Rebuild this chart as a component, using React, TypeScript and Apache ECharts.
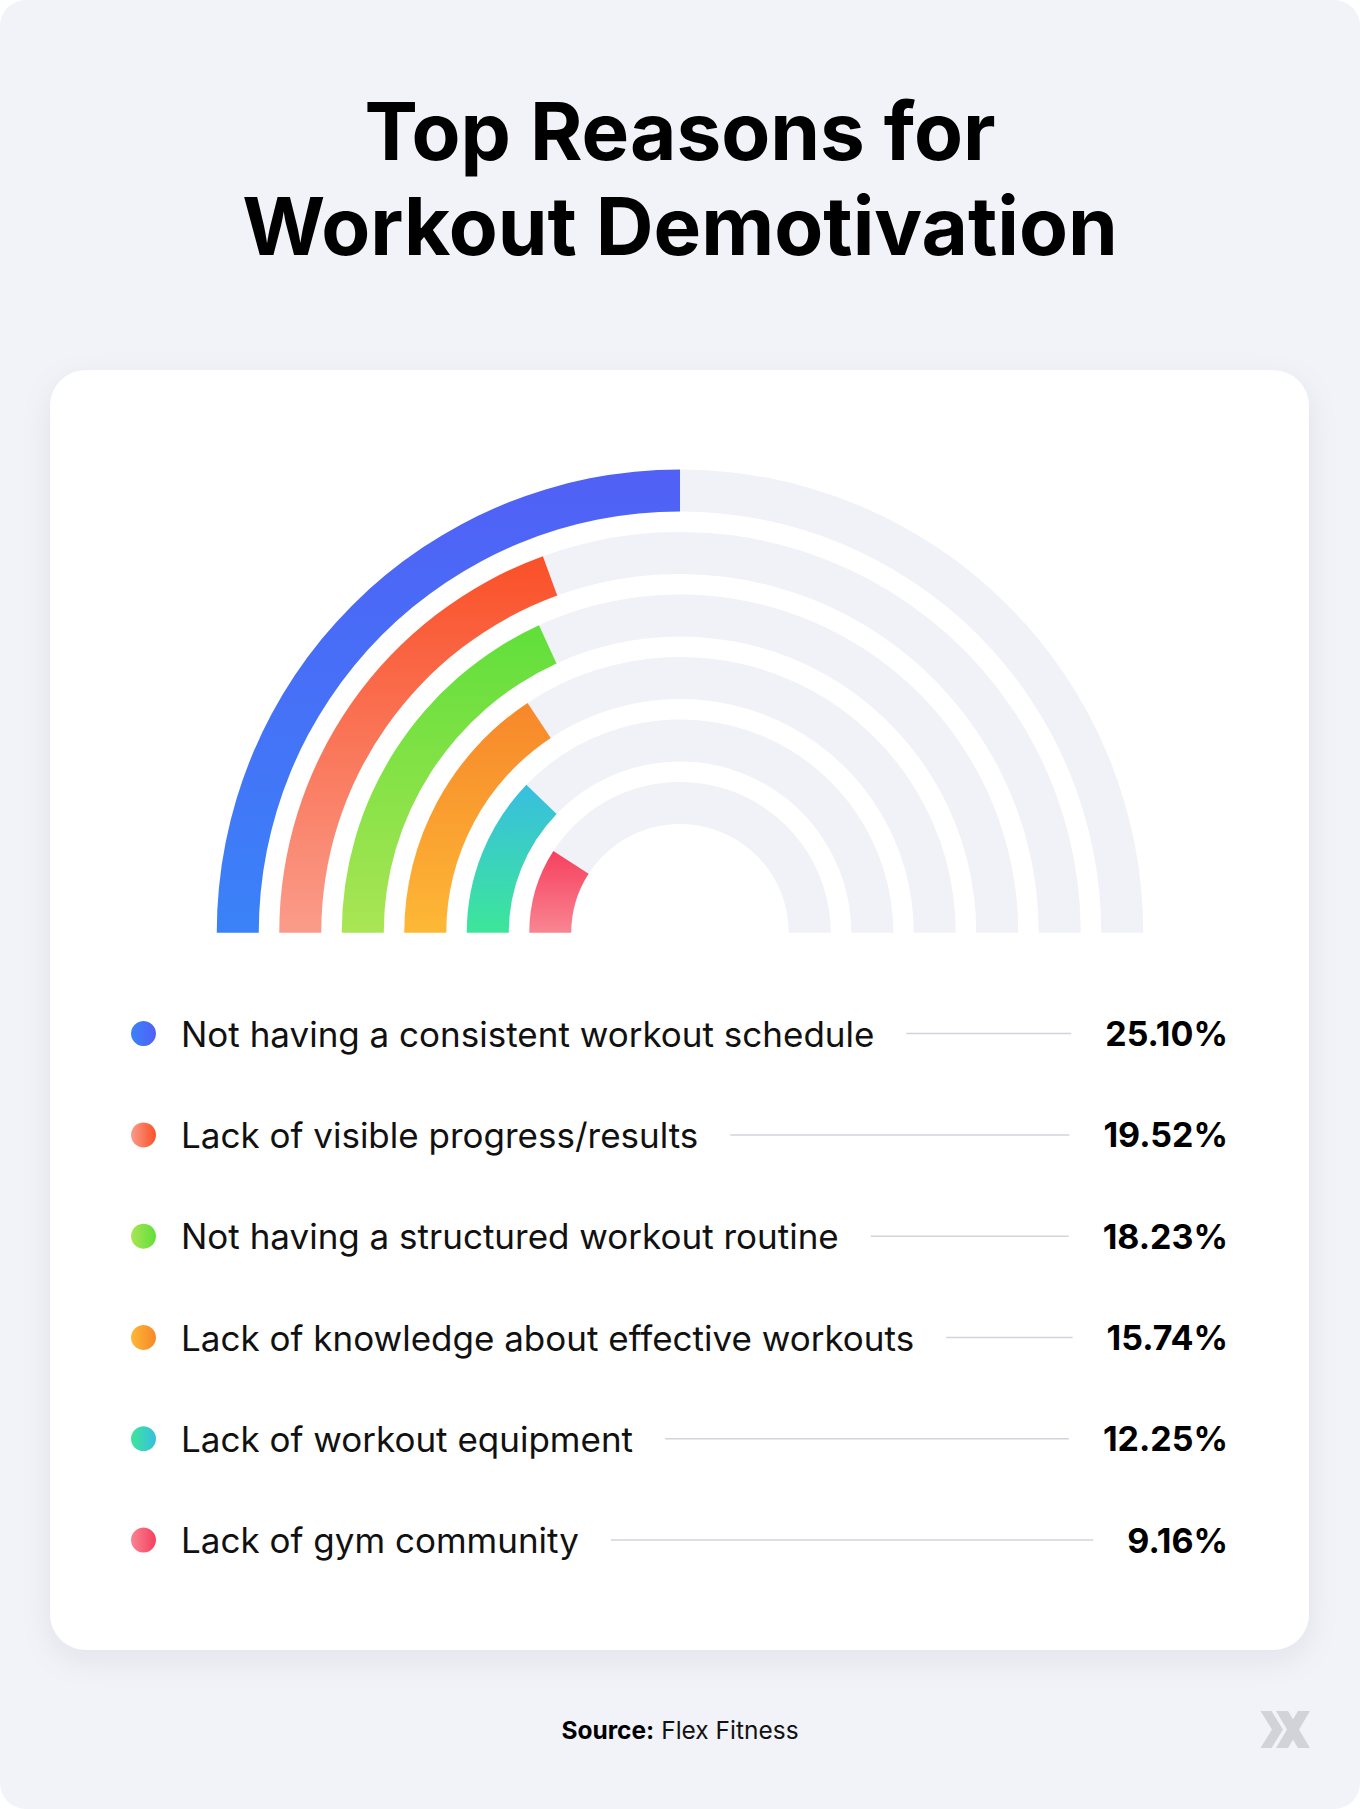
import React, { useEffect, useRef } from "react";
import * as echarts from "echarts";

const labels = [
  "Not having a consistent workout schedule",
  "Lack of visible progress/results",
  "Not having a structured workout routine",
  "Lack of knowledge about effective workouts",
  "Lack of workout equipment",
  "Lack of gym community",
];
const values = [25.1, 19.52, 18.23, 15.74, 12.25, 9.16];
const valueLabels = ["25.10%", "19.52%", "18.23%", "15.74%", "12.25%", "9.16%"];
// [end-of-bar colour, start-of-bar colour]
const colorPairs: [string, string][] = [
  ["#5160F6", "#3A82F8"],
  ["#FA5028", "#FA9C8A"],
  ["#60DF3A", "#AAE554"],
  ["#F7872A", "#FDB836"],
  ["#38BEE0", "#3DE69A"],
  ["#F6405E", "#F98592"],
];
const titleLines = ["Top Reasons for", "Workout Demotivation"];
const sourceText = "Flex Fitness";
const angleMax = 50.2;

const W = 1360;
const H = 1809;
const FONT = "Inter, 'Noto Sans', sans-serif";

function measure(text: string, font: string): number {
  const c = document.createElement("canvas").getContext("2d");
  if (!c) return text.length * 16;
  c.font = font;
  return c.measureText(text).width;
}

export default function App() {
  const ref = useRef<HTMLDivElement>(null);
  useEffect(() => {
    document.body.style.margin = "0";
    if (!ref.current) return;
    const chart = echarts.init(ref.current, undefined, { renderer: "svg" });

    const innerToOuter = labels.slice().reverse();
    const valsInner = values.slice().reverse();
    const colsInner = colorPairs.slice().reverse();

    const graphics: any[] = [];
    graphics.push({
      type: "rect",
      shape: { x: 0, y: 0, width: W, height: H, r: 26 },
      style: { fill: "#F2F3F8" },
      z: -10,
      silent: true,
    });
    graphics.push({
      type: "rect",
      shape: { x: 50, y: 370, width: 1259, height: 1280, r: 36 },
      style: {
        fill: "#FFFFFF",
        shadowBlur: 30,
        shadowOffsetY: 10,
        shadowColor: "rgba(20,20,60,0.07)",
      },
      z: -9,
      silent: true,
    });
    titleLines.forEach((t, i) => {
      graphics.push({
        type: "text",
        x: 680,
        y: 130 + i * 95,
        style: {
          text: t,
          fill: "#000000",
          font: `700 80px ${FONT}`,
          align: "center",
          verticalAlign: "middle",
        },
      });
    });

    const rowY0 = 1033.6;
    const rowStep = 101.3;
    const valueRight = 1228;
    const labelFont = `400 35px ${FONT}`;
    const valueFont = `700 34px ${FONT}`;
    labels.forEach((lab, i) => {
      const y = rowY0 + i * rowStep;
      const [endC, startC] = colorPairs[i];
      graphics.push({
        type: "circle",
        shape: { cx: 143.5, cy: y, r: 12.5 },
        style: {
          fill: new echarts.graphic.LinearGradient(0, 0, 1, 0, [
            { offset: 0, color: startC },
            { offset: 1, color: endC },
          ]),
        },
      });
      graphics.push({
        type: "text",
        x: 181,
        y: y,
        style: {
          text: lab,
          fill: "#111111",
          font: labelFont,
          align: "left",
          verticalAlign: "middle",
        },
      });
      graphics.push({
        type: "text",
        x: valueRight,
        y: y,
        style: {
          text: valueLabels[i],
          fill: "#000000",
          font: valueFont,
          align: "right",
          verticalAlign: "middle",
        },
      });
      const tw = measure(lab, labelFont);
      const vw = measure(valueLabels[i], valueFont);
      graphics.push({
        type: "line",
        shape: { x1: 181 + tw + 32, y1: y, x2: valueRight - vw - 34, y2: y },
        style: { stroke: "#D3D4DB", lineWidth: 1.5 },
      });
    });

    graphics.push({
      type: "text",
      x: 680,
      y: 1730,
      style: {
        text: `{b|Source:} ${sourceText}`,
        fill: "#111111",
        font: `400 24.5px ${FONT}`,
        align: "center",
        verticalAlign: "middle",
        rich: {
          b: { fontWeight: 700, fontSize: 24.5, fontFamily: FONT, fill: "#000000" },
        },
      },
    });

    // logo
    const logoColor = "#D2D3D8";
    graphics.push({
      type: "polygon",
      shape: {
        points: [
          [1260.5, 1711],
          [1271.5, 1711],
          [1283, 1729.5],
          [1271.5, 1748],
          [1260.5, 1748],
          [1272, 1729.5],
        ],
      },
      style: { fill: logoColor },
    });
    graphics.push({
      type: "polygon",
      shape: {
        points: [
          [1276, 1711],
          [1288, 1711],
          [1310, 1748],
          [1298, 1748],
        ],
      },
      style: { fill: logoColor },
    });
    graphics.push({
      type: "polygon",
      shape: {
        points: [
          [1298, 1711],
          [1310, 1711],
          [1288, 1748],
          [1276, 1748],
        ],
      },
      style: { fill: logoColor },
    });

    chart.setOption({
      animation: false,
      graphic: { elements: graphics },
      polar: { center: [680, 932.7], radius: [98.5, 473.5] },
      angleAxis: {
        type: "value",
        min: 0,
        max: angleMax,
        startAngle: 180,
        endAngle: 0,
        clockwise: true,
        show: false,
      },
      radiusAxis: { type: "category", data: innerToOuter, show: false },
      series: [
        {
          type: "bar",
          coordinateSystem: "polar",
          stack: "ring",
          barWidth: 42,
          z: 2,
          silent: true,
          data: valsInner.map((v, i) => ({
            value: v,
            itemStyle: {
              color: new echarts.graphic.LinearGradient(0, 0, 0, 1, [
                { offset: 0, color: colsInner[i][0] },
                { offset: 1, color: colsInner[i][1] },
              ]),
            },
          })),
        },
        {
          type: "bar",
          coordinateSystem: "polar",
          stack: "ring",
          barWidth: 42,
          data: valsInner.map((v) => +(angleMax - v).toFixed(2)),
          itemStyle: { color: "#F1F2F7" },
          silent: true,
          z: 1,
        },
      ],
    });
    return () => chart.dispose();
  }, []);
  return <div ref={ref} style={{ width: W, height: H, background: "#FFFFFF" }} />;
}
